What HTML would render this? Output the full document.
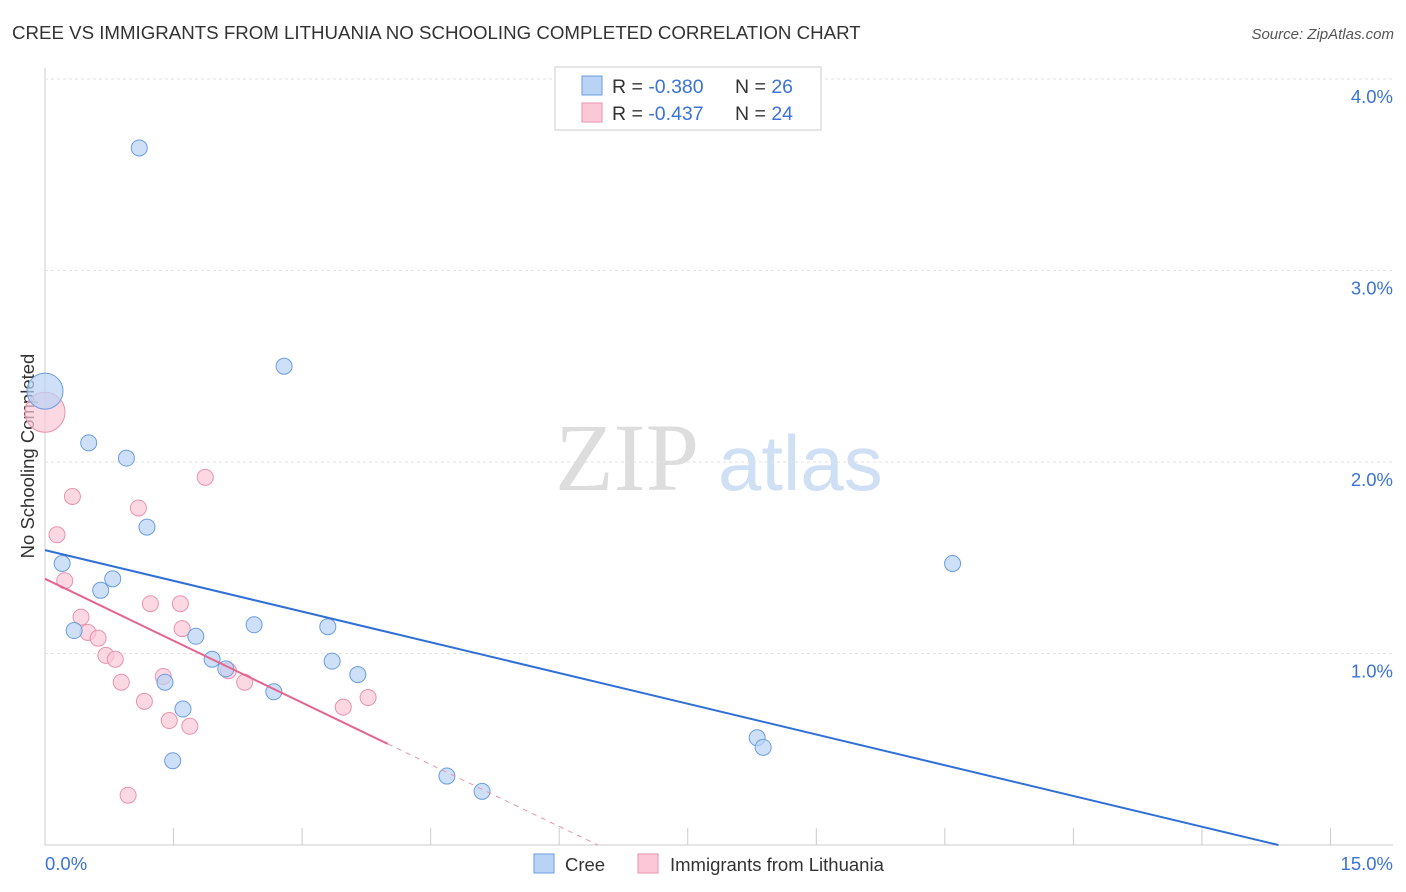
<!DOCTYPE html>
<html><head><meta charset="utf-8"><style>
body{margin:0;background:#fff;font-family:"Liberation Sans",sans-serif;}
svg{display:block}
</style></head><body>
<svg id="c" width="1406" height="892" xmlns="http://www.w3.org/2000/svg">
<text x="12" y="39" font-size="18.7" fill="#333">CREE VS IMMIGRANTS FROM LITHUANIA NO SCHOOLING COMPLETED CORRELATION CHART</text>
<text x="1394" y="39" font-size="15" fill="#555" font-style="italic" text-anchor="end">Source: ZipAtlas.com</text>
<text x="34" y="456" font-size="18.5" fill="#333" text-anchor="middle" transform="rotate(-90 34 456)">No Schooling Completed</text>
<text x="555" y="490" font-size="96" fill="#ddd" font-family="Liberation Serif">ZIP</text>
<text x="718" y="490" font-size="78" fill="#cfe0f5">atlas</text>
<g id="grid"></g><g id="marks"></g>
<g>
<rect x="555" y="67" width="266" height="63" fill="#fff" stroke="#ccc"/>
<rect x="582" y="76" width="20" height="19" fill="#b9d3f5" stroke="#6b9de0"/>
<rect x="582" y="103" width="20" height="19" fill="#fbc8d7" stroke="#e993ae"/>
<text x="612" y="93" font-size="19.5" fill="#333">R = <tspan fill="#3b73d6">-0.380</tspan></text>
<text x="735" y="93" font-size="19.5" fill="#333">N = <tspan fill="#3b73d6">26</tspan></text>
<text x="612" y="120" font-size="19.5" fill="#333">R = <tspan fill="#3b73d6">-0.437</tspan></text>
<text x="735" y="120" font-size="19.5" fill="#333">N = <tspan fill="#3b73d6">24</tspan></text>
</g>
<rect x="534" y="854" width="20" height="19" fill="#b9d3f5" stroke="#6b9de0"/>
<text x="565" y="871" font-size="18.5" fill="#333">Cree</text>
<rect x="638" y="854" width="20" height="19" fill="#fbc8d7" stroke="#e993ae"/>
<text x="670" y="871" font-size="18.5" fill="#333">Immigrants from Lithuania</text>
</svg>
<script>
const creeX=[0,1.10,2.79,0.51,0.95,1.19,0.20,0.79,0.65,0.34,1.76,2.44,3.30,1.95,2.11,3.35,3.65,1.40,2.67,1.61,1.49,4.69,5.10,8.31,8.38,10.59];
const creeY=[2.37,3.64,2.50,2.10,2.02,1.66,1.47,1.39,1.33,1.12,1.09,1.15,1.14,0.97,0.92,0.96,0.89,0.85,0.80,0.71,0.44,0.36,0.28,0.56,0.51,1.47];
const litX=[0,0.32,0.14,1.87,1.09,0.23,1.23,1.58,0.42,0.50,0.62,1.60,0.71,0.82,1.38,0.89,2.14,2.33,1.16,1.45,1.69,3.48,3.77,0.97];
const litY=[2.26,1.82,1.62,1.92,1.76,1.38,1.26,1.26,1.19,1.11,1.08,1.13,0.99,0.97,0.88,0.85,0.91,0.85,0.75,0.65,0.62,0.72,0.77,0.26];
const yTicks=[1,2,3,4];
const yTickLabels=["1.0%","2.0%","3.0%","4.0%"];
const xTicks=[0,1.5,3,4.5,6,7.5,9,10.5,12,13.5,15];
const creeTrend=[1.54,-0.107];
const litTrend=[1.39,-0.2155];
const X=v=>45+v*85.7, Y=v=>845-v*191.5;
const NS="http://www.w3.org/2000/svg";
function mk(t,a,p){const e=document.createElementNS(NS,t);for(const k in a)e.setAttribute(k,a[k]);p.appendChild(e);return e;}
const g=document.getElementById('grid'),m=document.getElementById('marks');
let e=mk('line',{x1:45,y1:68,x2:45,y2:845,stroke:'#ccc'},g);


e=mk('line',{x1:45,y1:845,x2:1393,y2:845,stroke:'#ccc'},g);


yTicks.forEach((t,i)=>{
 const l=mk('line',{x1:45,y1:Y(t),x2:1393,y2:Y(t),stroke:'#e2e2e2','stroke-dasharray':'3,3'},g);
 
 
 const tx=mk('text',{x:1393,y:Y(t)+24,'font-size':18.5,fill:'#3b73d6','text-anchor':'end'},g);tx.textContent=yTickLabels[i];
 
 
});
xTicks.forEach(t=>{const l=mk('line',{x1:X(t),y1:828,x2:X(t),y2:845,stroke:'#ccc'},g);
 
 });
let t0=mk('text',{x:45,y:870,'font-size':18.5,fill:'#3b73d6'},g);t0.textContent='0.0%';


let t1=mk('text',{x:1393,y:870,'font-size':18.5,fill:'#3b73d6','text-anchor':'end'},g);t1.textContent='15.0%';


litX.forEach((x,i)=>{const c=mk('circle',{cx:X(x),cy:Y(litY[i]),r:i==0?20:8,fill:'#fbc8d7','fill-opacity':0.7,stroke:'#e993ae','stroke-width':1},m);
 
 });
creeX.forEach((x,i)=>{const c=mk('circle',{cx:X(x),cy:Y(creeY[i]),r:i==0?18:8,fill:'#b9d3f5','fill-opacity':0.7,stroke:'#6b9de0','stroke-width':1},m);
 
 });
const bx=-creeTrend[0]/creeTrend[1];
let ln=mk('line',{x1:X(0),y1:Y(creeTrend[0]),x2:X(bx),y2:Y(0),stroke:'#2f6fd6','stroke-width':2},m);


const px=-litTrend[0]/litTrend[1],ps=4.0;
ln=mk('line',{x1:X(0),y1:Y(litTrend[0]),x2:X(ps),y2:Y(litTrend[0]+litTrend[1]*ps),stroke:'#e5658e','stroke-width':2},m);


ln=mk('line',{x1:X(ps),y1:Y(litTrend[0]+litTrend[1]*ps),x2:X(px),y2:Y(0),stroke:'#e993ae','stroke-width':1,'stroke-dasharray':'5,5'},m);


</script>
</body></html>
